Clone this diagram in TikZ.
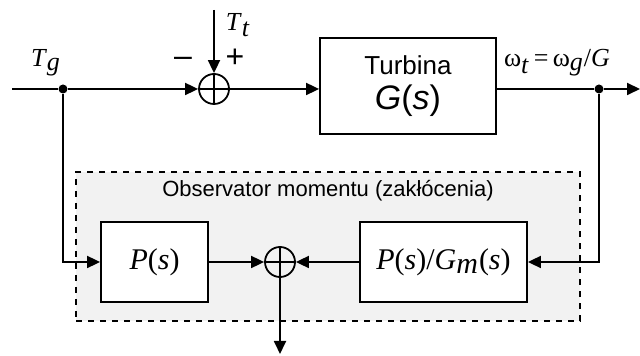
\documentclass[tikz,border=0pt]{standalone}
\usepackage{fontspec}
\setmainfont{Liberation Serif}
\setsansfont{Liberation Sans}
\usetikzlibrary{arrows.meta,positioning,calc}
\definecolor{obsFill}{RGB}{242, 242, 242}
\newcommand{\lowsub}[1]{$_{\textit{#1}}$}

\begin{document}
\begin{tikzpicture}[x=0.5pt, y=-0.5pt,
    blk/.style={draw, line width=0.9pt, fill=white, inner sep=0pt},
    sumnode/.style={draw, circle, line width=0.9pt, minimum size=15pt, inner sep=0pt,
      path picture={\draw[line width=0.7pt] (path picture bounding box.north) -- (path picture bounding box.south)
        (path picture bounding box.west) -- (path picture bounding box.east);}},
    sig/.style={line width=0.9pt, -{Triangle[length=6.5pt, width=6pt]}},
    wire/.style={line width=0.9pt},
    jdot/.style={circle, fill, inner sep=0pt, minimum size=4.5pt},
    lbl/.style={font=\fontsize{13pt}{15pt}\selectfont, inner sep=0pt}]
  \useasboundingbox (0,0) rectangle (640,356);

  % observer frame
  \node[draw, dashed, line width=0.9pt, fill=obsFill, minimum width=252pt, minimum height=74.5pt] (obs) at (328,246.5) {};
  \node[font=\sffamily\fontsize{11pt}{13pt}\selectfont] (obsTitle) at (328,191) {Observator momentu (zakłócenia)};

  % blocks
  \node[blk, minimum width=88pt, minimum height=48pt, align=center] (turb) at (408,86)
    {{\sffamily\fontsize{13pt}{14pt}\selectfont Turbina}\\[4pt]
     {\sffamily\fontsize{17pt}{19pt}\selectfont\itshape G\upshape(\itshape s\upshape)}};
  \node[blk, minimum width=53.5pt, minimum height=40pt, font=\fontsize{15pt}{17pt}\selectfont] (ps) at (154.5,262)
    {\textit{P}(\textit{s})};
  \node[blk, minimum width=83.5pt, minimum height=40pt, font=\fontsize{15pt}{17pt}\selectfont] (pgm) at (443.5,262)
    {\textit{P}(\textit{s})/\textit{G}\lowsub{m}(\textit{s})};

  % summing points
  \node[sumnode] (s1) at (214,89) {};
  \node[sumnode] (s2) at (280,262) {};

  % junctions and free ends
  \coordinate (in) at (12,89);
  \node[jdot] (jg) at (63,89) {};
  \node[jdot] (jw) at (599,89) {};
  \coordinate (out) at (640,89);
  \coordinate (tt) at (214,10);
  \coordinate (dist) at (280,354);

  % signals
  \draw[wire] (in) -- (jg);
  \draw[sig] (jg) -- (s1.west);
  \draw[sig] (tt) -- (s1.north);
  \draw[sig] (s1.east) -- (s1.east -| turb.west);
  \draw[wire] (turb.east |- jw) -- (jw);
  \draw[sig] (jw) -- (out);
  \draw[sig] (jw) |- (pgm.east);
  \draw[sig] (jg) |- (ps.west);
  \draw[sig] (ps.east) -- (s2.west);
  \draw[sig] (pgm.west) -- (s2.east);
  \draw[sig] (s2.south) -- (dist);

  % labels
  \node[lbl] (lTg) at (46,63) {\textit{T}\lowsub{g}};
  \node[lbl] (lTt) at (238,25) {\textit{T}\lowsub{t}};
  \node[lbl, font=\sffamily\fontsize{16pt}{18pt}\selectfont] (lMinus) at (183,62) {–};
  \node[lbl, font=\sffamily\fontsize{16pt}{18pt}\selectfont] (lPlus) at (235,58) {+};
  \node[lbl] (lOmega) at (557,63) {ω\lowsub{t}\,=\,ω\lowsub{g}/\textit{G}};
\end{tikzpicture}
\end{document}
